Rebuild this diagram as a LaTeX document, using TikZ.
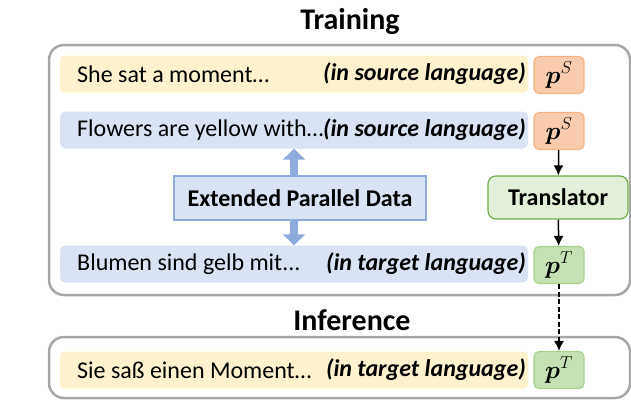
\documentclass[tikz,border=0pt]{standalone}
\usepackage{fontspec}
\setmainfont{Carlito}
\usepackage{amsmath}
\usepackage{bm}
\usetikzlibrary{arrows.meta}
\definecolor{rowyellow}{HTML}{FFF2CC}
\definecolor{rowblue}{HTML}{DAE3F3}
\definecolor{edgeblue}{HTML}{8FAADC}
\definecolor{porange}{HTML}{F8CBAD}
\definecolor{edgeorange}{HTML}{F4B183}
\definecolor{pgreen}{HTML}{C5E0B4}
\definecolor{edgegreen}{HTML}{A9D18E}
\definecolor{trgreen}{HTML}{E2F0D9}
\definecolor{trborder}{HTML}{70AD47}
\definecolor{framegray}{HTML}{A6A6A6}

\begin{document}
\begin{tikzpicture}[x=1pt,y=-1pt]
    % Setup the styles for the boxes
        \tikzset{row style/.style={rectangle,
                                   rounded corners=5pt,
                                   minimum width=468pt,
                                   minimum height=37pt},
                 p style/.style={rectangle,
                                 rounded corners=5pt,
                                 line width=1.2pt,
                                 minimum width=50pt,
                                 minimum height=37pt,
                                 font=\fontsize{25}{28}\selectfont},
                 text style/.style={inner sep=0pt,
                                    font=\fontsize{24}{28}\selectfont},
                 lang style/.style={text style,
                                    anchor=east,
                                    font=\fontsize{24}{28}\selectfont\bfseries\itshape},
                 title style/.style={font=\fontsize{30}{34}\selectfont\bfseries},
                 frame style/.style={draw=framegray,
                                     line width=2.5pt,
                                     rounded corners=15pt}}
        \useasboundingbox (0,0) rectangle (631,400);
        % Draw the frames and titles
        \node[title style] at (350,22)  (title_train) {Training};
        \node[title style] at (352,320) (title_inf)   {Inference};
        \draw[frame style] (49,45) rectangle (630,295);
        \draw[frame style] (49,337) rectangle (630,398);
        % Draw the sentence rows
        \node[row style, fill=rowyellow] at (294,74)  (row_she)     {};
        \node[row style, fill=rowblue]   at (294,130) (row_flowers) {};
        \node[row style, fill=rowblue]   at (294,264) (row_blumen)  {};
        \node[row style, fill=rowyellow] at (294,370) (row_sie)     {};
        \node[text style, anchor=west] at (77,74)  (txt_she)     {She sat a moment\dots};
        \node[text style, anchor=west] at (77,130) (txt_flowers) {Flowers are yellow with\dots};
        \node[text style, anchor=west] at (77,264) (txt_blumen)  {Blumen sind gelb mit...};
        \node[text style, anchor=west] at (77,370) (txt_sie)     {Sie saß einen Moment\dots};
        \node[lang style] at (526,74)  (lang_she)     {(in source language)};
        \node[lang style] at (526,130) (lang_flowers) {(in source language)};
        \node[lang style] at (526,264) (lang_blumen)  {(in target language)};
        \node[lang style] at (526,370) (lang_sie)     {(in target language)};
        % Draw the prompts
        \node[p style, draw=edgeorange, fill=porange] at (559,75)  (p_she)     {$\bm{p}^{S}$};
        \node[p style, draw=edgeorange, fill=porange] at (559,131) (p_flowers) {$\bm{p}^{S}$};
        \node[p style, draw=edgegreen,  fill=pgreen]  at (559,265) (p_blumen)  {$\bm{p}^{T}$};
        \node[p style, draw=edgegreen,  fill=pgreen]  at (559,370) (p_sie)     {$\bm{p}^{T}$};
        % Draw the middle boxes
        \node[rectangle, draw=edgeblue, line width=1.2pt, fill=rowblue,
              minimum width=252pt, minimum height=44pt,
              font=\fontsize{24}{28}\selectfont\bfseries] at (300,198) (epd) {Extended Parallel Data};
        \node[rectangle, rounded corners=8pt, draw=trborder, line width=1.2pt, fill=trgreen,
              minimum width=140pt, minimum height=43pt,
              font=\fontsize{24}{28}\selectfont\bfseries] at (558,197.5) (translator) {Translator};
        % Connect the boxes with arrows
        \draw[draw=edgeblue, line width=8pt,
              -{Triangle[width=22pt,length=11pt]}]
        (row_flowers.south |- epd.north) -- (row_flowers.south);
        \draw[draw=edgeblue, line width=8pt,
              -{Triangle[width=22pt,length=11pt]}]
        (row_blumen.north |- epd.south) -- (row_blumen.north);
        \draw[line width=1.5pt, -{Latex[length=10pt,width=10pt]}]
        (p_flowers) edge (translator)
        (translator) edge (p_blumen)
        (p_blumen) edge[dash pattern=on 5pt off 2.5pt] (p_sie);
\end{tikzpicture}
\end{document}
